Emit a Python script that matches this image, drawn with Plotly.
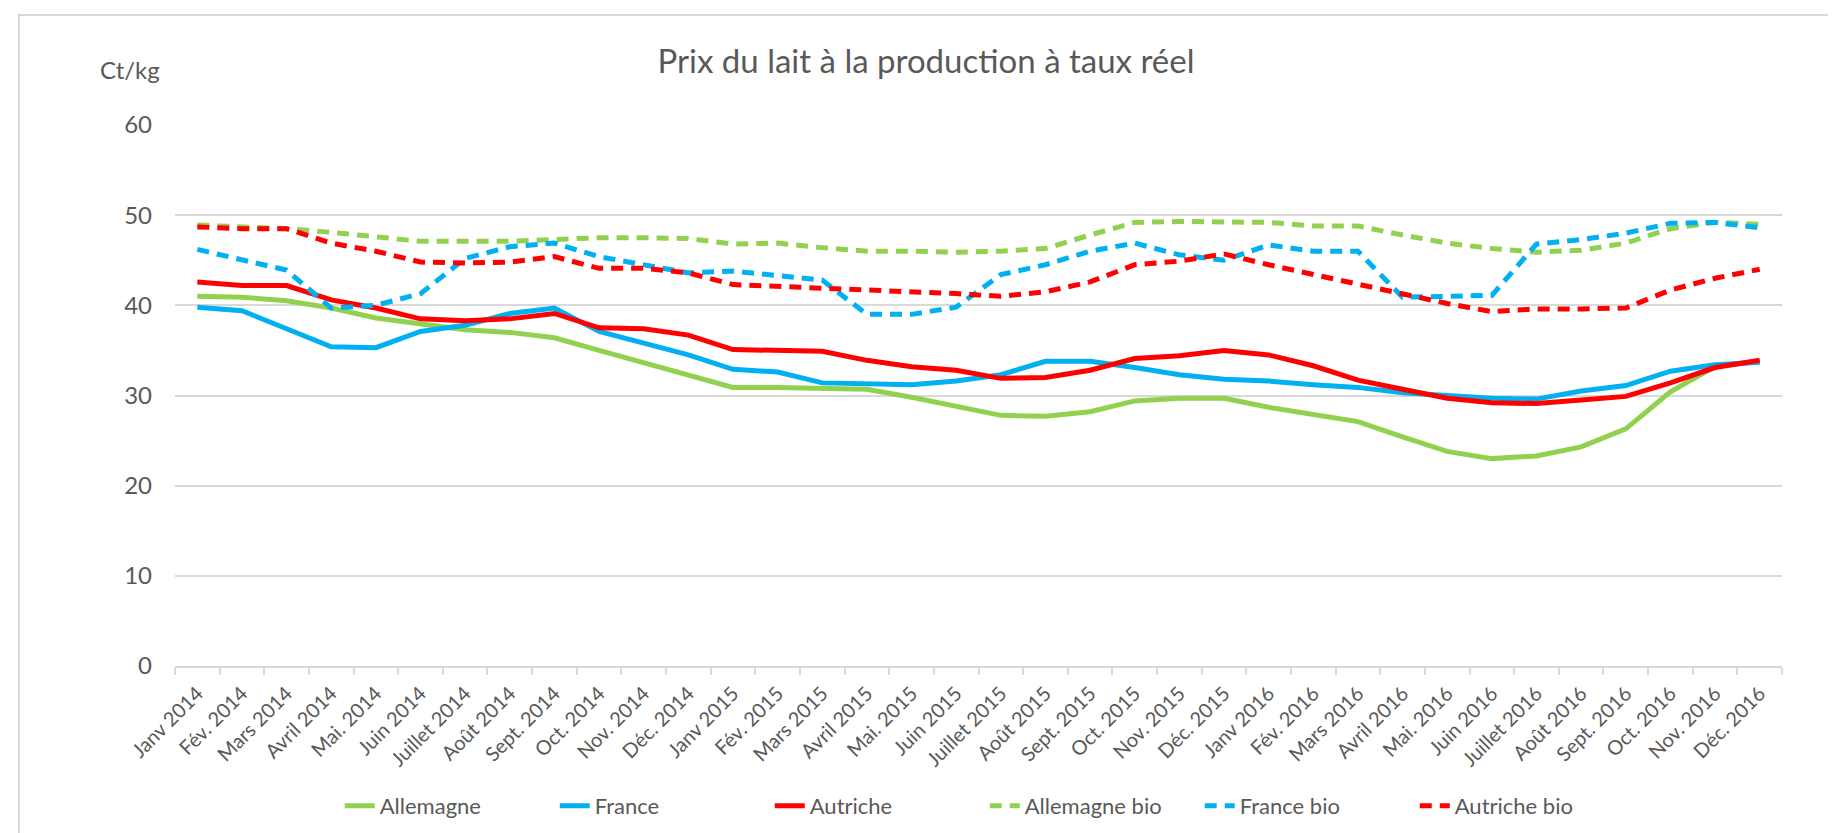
import plotly.graph_objects as go

categories = ["Janv 2014", "Fév. 2014", "Mars 2014", "Avril 2014", "Mai. 2014", "Juin 2014",
              "Juillet 2014", "Août 2014", "Sept. 2014", "Oct. 2014", "Nov. 2014", "Déc. 2014",
              "Janv 2015", "Fév. 2015", "Mars 2015", "Avril 2015", "Mai. 2015", "Juin 2015",
              "Juillet 2015", "Août 2015", "Sept. 2015", "Oct. 2015", "Nov. 2015", "Déc. 2015",
              "Janv 2016", "Fév. 2016", "Mars 2016", "Avril 2016", "Mai. 2016", "Juin 2016",
              "Juillet 2016", "Août 2016", "Sept. 2016", "Oct. 2016", "Nov. 2016", "Déc. 2016"]

allemagne = [41.0, 40.9, 40.5, 39.7, 38.6, 37.9, 37.3, 37.0, 36.4, 35.0, 33.6, 32.3,
             30.9, 30.9, 30.8, 30.7, 29.8, 28.8, 27.8, 27.7, 28.2, 29.4, 29.7, 29.7,
             28.7, 27.9, 27.1, 25.4, 23.8, 23.0, 23.3, 24.3, 26.3, 30.4, 33.2, 33.8]
france = [39.8, 39.4, 37.4, 35.4, 35.3, 37.1, 37.8, 39.1, 39.7, 37.1, 35.8, 34.5,
          32.9, 32.6, 31.4, 31.3, 31.2, 31.6, 32.3, 33.8, 33.8, 33.1, 32.3, 31.8,
          31.6, 31.2, 30.9, 30.3, 30.0, 29.7, 29.6, 30.5, 31.1, 32.7, 33.4, 33.7]
autriche = [42.6, 42.2, 42.2, 40.6, 39.7, 38.5, 38.3, 38.5, 39.1, 37.5, 37.4, 36.7,
            35.1, 35.0, 34.9, 33.9, 33.2, 32.8, 31.9, 32.0, 32.8, 34.1, 34.4, 35.0,
            34.5, 33.3, 31.7, 30.7, 29.7, 29.2, 29.1, 29.5, 29.9, 31.4, 33.1, 33.9]
allemagne_bio = [48.9, 48.7, 48.5, 48.1, 47.6, 47.1, 47.1, 47.1, 47.3, 47.5, 47.5, 47.4,
                 46.8, 46.9, 46.4, 46.0, 46.0, 45.9, 46.0, 46.3, 47.8, 49.2, 49.3, 49.2,
                 49.2, 48.8, 48.8, 47.8, 46.9, 46.3, 45.9, 46.1, 46.9, 48.5, 49.2, 49.0]
france_bio = [46.2, 45.0, 43.9, 39.7, 40.0, 41.3, 45.2, 46.5, 46.9, 45.4, 44.5, 43.6,
              43.8, 43.3, 42.8, 39.0, 39.0, 39.8, 43.4, 44.5, 46.0, 46.9, 45.6, 45.0,
              46.7, 46.0, 46.0, 40.9, 41.0, 41.1, 46.8, 47.3, 48.0, 49.1, 49.2, 48.6]
autriche_bio = [48.7, 48.5, 48.5, 46.9, 46.0, 44.8, 44.7, 44.8, 45.4, 44.1, 44.1, 43.6,
                42.3, 42.1, 42.0, 41.7, 41.6, 41.3, 41.0, 41.5, 42.6, 44.5, 44.9, 45.7,
                44.5, 43.4, 42.3, 41.3, 40.2, 39.3, 39.6, 39.6, 39.7, 41.7, 43.0, 44.0]

y_ticks = [0, 10, 20, 30, 40, 50, 60]

GREEN = "#92D050"
BLUE = "#00B0F0"
RED = "#FF0000"
TXT = "#595959"
GRID = "#D9D9D9"
FONT = "Lato, Open Sans, sans-serif"

series = [
    ("Allemagne", allemagne, GREEN, "solid"),
    ("France", france, BLUE, "solid"),
    ("Autriche", autriche, RED, "solid"),
    ("Allemagne bio", allemagne_bio, GREEN, "12px,8px"),
    ("France bio", france_bio, BLUE, "12px,8px"),
    ("Autriche bio", autriche_bio, RED, "12px,8px"),
]

fig = go.Figure()
for name, vals, col, dash in series:
    fig.add_trace(go.Scatter(
        x=categories, y=vals, mode="lines", name=name,
        line=dict(color=col, width=5, dash=dash, shape="linear"),
    ))

W, H = 1836, 833
L, R, T, B = 167, 62, 117, 175
pw, ph = W - L - R, H - T - B


def px_x(px):
    return (px - L) / pw


def px_y(py):
    return (H - B - py) / ph


fig.update_layout(
    width=W, height=H,
    margin=dict(l=L, r=R, t=T, b=B, autoexpand=False),
    paper_bgcolor="white", plot_bgcolor="white",
    font=dict(family=FONT, color=TXT, size=22),
    title=dict(text="Prix du lait à la production à taux réel",
               x=0.5, xref="container", xanchor="center",
               y=1 - 53 / H, yref="container", yanchor="middle",
               font=dict(family=FONT, size=33, color=TXT)),
    showlegend=True,
    legend=dict(orientation="h", xref="container", x=0.532, xanchor="center",
                yref="paper", y=px_y(798), yanchor="middle",
                font=dict(family=FONT, size=22, color=TXT),
                entrywidth=170, entrywidthmode="pixels",
                bgcolor="rgba(0,0,0,0)"),
    xaxis=dict(type="category", categoryorder="array", categoryarray=categories,
               tickangle=-45, tickson="boundaries", ticks="outside", ticklen=7,
               tickcolor=GRID, tickwidth=2, showline=True, linecolor=GRID, linewidth=2,
               showgrid=False, tickfont=dict(family=FONT, size=20, color=TXT),
               ticklabelstandoff=6,
               range=[-0.5, len(categories) - 0.5]),
    yaxis=dict(range=[0, 60], tickvals=y_ticks, showgrid=True, gridcolor=GRID, gridwidth=2,
               zeroline=False, showline=False, ticks="", ticklabelstandoff=22,
               tickfont=dict(family=FONT, size=24, color=TXT)),
    annotations=[dict(text="Ct/kg", xref="paper", yref="paper", x=px_x(122), y=px_y(61),
                      xanchor="center", yanchor="middle", showarrow=False,
                      font=dict(family=FONT, size=24, color=TXT))],
    shapes=[dict(type="rect", xref="paper", yref="paper",
                 x0=px_x(11), x1=px_x(1830), y0=px_y(827), y1=px_y(7),
                 line=dict(color=GRID, width=2), fillcolor="rgba(0,0,0,0)", layer="below")],
)

fig.write_html("out.html")
